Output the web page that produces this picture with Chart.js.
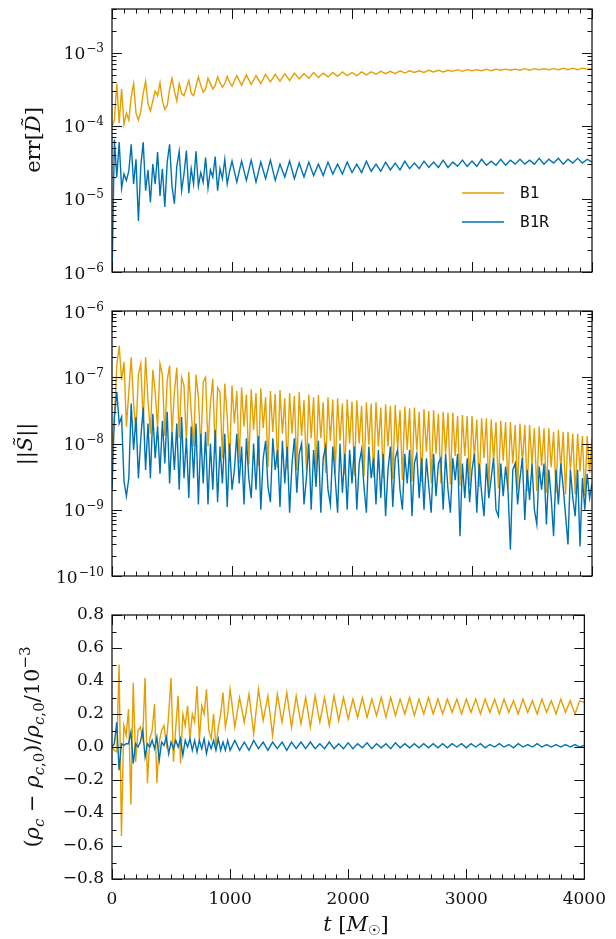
<!DOCTYPE html>
<html>
<head>
<meta charset="utf-8">
<script src="https://cdn.jsdelivr.net/npm/chart.js@4.4.1/dist/chart.umd.min.js"></script>
<style>
  html, body { margin: 0; padding: 0; background: #fff; }
  #fig { position: relative; width: 616px; height: 939px; }
  canvas { position: absolute; left: 0; }
</style>
</head>
<body>
<div id="fig">
  <canvas id="c1" width="616" height="300" style="top:0px"></canvas>
  <canvas id="c2" width="616" height="290" style="top:300px"></canvas>
  <canvas id="c3" width="616" height="349" style="top:590px"></canvas>
</div>
<script>
// ---------- data ----------
// sample times t [M_sun]: 20 M_sun steps up to t = 1000, then 40 M_sun steps
const tEarly = Array.from({ length: 51 }, (_, i) => i * 20);
const tLate = Array.from({ length: 75 }, (_, i) => 1040 + i * 40);
const time = tEarly.concat(tLate);
// the momentum norm is sampled every 20 M_sun over the whole run
const timeS = Array.from({ length: 201 }, (_, i) => i * 20);

const runLabels = ['B1', 'B1R'];

// err[D~], in units of 1e-5
const errD_B1 = [
  10, 12, 38, 11, 32, 10.5, 15, 12, 25, 38,
  15, 12, 16, 28, 41, 20, 16, 22, 30, 26,
  39, 22, 17, 19, 32, 45, 30, 22, 38, 28,
  26, 33, 42, 28, 26, 35, 47, 36, 29, 32,
  45, 38, 32, 36, 47, 39, 34, 38, 48, 40,
  35,
  49, 36, 50, 37, 49, 38, 51, 40, 51, 41,
  52, 42, 53, 44, 52, 45, 54, 46, 53, 47,
  54, 48, 55, 49, 54, 49, 55, 50, 55, 51,
  56, 52, 56, 52, 57, 53, 57, 54, 57, 54,
  58, 55, 58, 55, 58, 56, 59, 56, 59, 57,
  59, 57, 60, 57, 60, 58, 60, 58, 60, 58,
  61, 58, 61, 59, 61, 59, 61, 59, 62, 59,
  62, 59, 62, 60, 61
];
const errD_B1R = [
  0.08, 6.5, 2.0, 6.0, 1.4, 2.2, 1.8, 2.4, 5.6, 1.6,
  3.5, 0.5, 2.8, 6.0, 1.3, 2.5, 0.9, 3.0, 1.6, 4.4,
  1.1, 2.6, 0.78, 3.2, 5.6, 1.5, 0.86, 2.8, 4.5, 1.3,
  2.2, 4.6, 1.2, 2.6, 1.6, 4.5, 1.5, 2.3, 1.7, 3.7,
  1.4, 2.5, 2.0, 3.8, 1.3, 2.6, 1.9, 3.5, 1.6, 2.4,
  3.3,
  1.7, 3.3, 1.8, 3.4, 1.7, 3.2, 1.9, 3.4, 1.8, 3.0,
  2.0, 3.3, 1.9, 3.1, 2.0, 3.2, 2.1, 3.0, 2.1, 3.2,
  2.2, 3.0, 2.2, 3.2, 2.3, 3.0, 2.3, 3.3, 2.4, 3.0,
  2.4, 3.2, 2.5, 3.1, 2.5, 3.3, 2.6, 3.1, 2.6, 3.3,
  2.7, 3.2, 2.7, 3.4, 2.7, 3.2, 2.8, 3.4, 2.8, 3.3,
  2.8, 3.5, 2.9, 3.3, 2.9, 3.5, 2.9, 3.4, 3.0, 3.5,
  3.0, 3.4, 3.0, 3.6, 3.0, 3.5, 3.1, 3.6, 3.0, 3.5,
  3.1, 3.6, 3.1, 3.5, 3.2
];

// ||S~||, in units of 1e-9 (sampled on timeS)
const normS_B1 = [
  10, 25, 150, 300, 90, 170, 18, 60, 200, 40,
  15, 110, 160, 20, 200, 45, 14, 130, 60, 17,
  160, 110, 13, 90, 150, 14, 60, 140, 12, 100,
  75, 10, 120, 30, 9, 110, 50, 8, 85, 100,
  9, 40, 95, 7, 70, 60, 6, 80, 25, 5.5,
  75,
  20, 62, 5, 70, 18, 55, 4.8, 66,
  16, 58, 4.6, 68, 17, 50, 4.4, 62,
  15, 56, 4.3, 64, 14, 48, 4.1, 58,
  14, 52, 4.0, 60, 13, 45, 3.9, 55,
  12, 50, 3.7, 54, 12, 42, 3.6, 50,
  11, 46, 3.5, 48, 11, 40, 3.4, 46,
  10, 43, 3.3, 45, 10, 37, 3.2, 42,
  9.5, 40, 3.1, 42, 9, 35, 3.0, 39,
  9, 37, 2.9, 38, 8.5, 32, 2.8, 36,
  8, 34, 2.7, 35, 8, 30, 2.6, 33,
  7.5, 31, 2.5, 32, 7, 28, 2.5, 30,
  7, 29, 2.4, 29, 6.5, 26, 2.3, 27,
  6.5, 26, 2.3, 26, 6, 23, 2.2, 24,
  6, 24, 2.1, 23, 5.5, 21, 2.1, 22,
  5.5, 21, 2.0, 21, 5, 19, 2.0, 20,
  5, 19, 1.9, 19, 4.8, 17, 1.9, 18,
  4.6, 17, 1.8, 17, 4.4, 15, 1.8, 16,
  4.2, 15, 1.7, 15, 4, 14, 1.7, 14,
  3.8, 13, 1.6, 13, 3.6, 12
];
const normS_B1R = [
  2, 25, 60, 20, 25, 2.7, 1.6, 3, 40, 8,
  25, 3, 12, 35, 4, 20, 3, 28, 6, 18,
  3.5, 22, 5, 30, 2.5, 15, 4, 20, 2, 25,
  3, 12, 1.5, 18, 3, 20, 1.2, 14, 2.5, 15,
  1.2, 10, 2, 16, 1.3, 9, 2.5, 14, 1.1, 10,
  2,
  4, 14, 2.5, 9, 1.2, 12, 3, 1.5, 10, 2,
  13, 1.0, 6, 11, 2.2, 1.3, 12, 4, 8, 1.1,
  11, 2.5, 9, 0.9, 5, 12, 1.8, 7, 10, 1.2,
  3, 10, 1.0, 8, 2.2, 11, 0.9, 6, 9, 2.0,
  1.2, 9, 3, 0.9, 10, 1.8, 7, 1.0, 8, 2.5,
  9, 1.0, 5, 8, 2.2, 0.9, 9, 3, 6, 1.2,
  8, 1.5, 7, 0.8, 4, 9, 1.1, 6, 8, 2.0,
  1.0, 7, 2.5, 8, 0.8, 5, 7, 1.5, 6, 1.0,
  6, 2.2, 0.9, 7, 1.6, 5, 6, 1.0, 7, 2.0,
  0.9, 6, 2.8, 7, 0.4, 5, 1.5, 6, 1.3, 4,
  7, 0.9, 5, 1.8, 0.8, 5, 1.5, 3, 6, 1.0,
  0.8, 5, 1.6, 4.5, 2.0, 0.25, 4, 5, 1.2, 3,
  6, 0.7, 4, 1.4, 5, 1.0, 0.6, 4.5, 2.0, 5,
  0.6, 4, 1.5, 0.4, 4, 1.2, 5, 2.2, 0.8, 0.3,
  4, 1.5, 0.8, 4, 0.28, 3, 1.0, 3.5, 1.5, 2.5
];

// (rho_c - rho_c,0) / rho_c,0, in units of 1e-3
const drho_B1 = [
  0.0, -0.02, -0.03, 0.5, -0.54, 0.13, 0.07, 0.23, -0.35, 0.39,
  -0.09, 0.1, 0.12, 0.05, 0.42, -0.22, 0.05, 0.1, 0.26, -0.22,
  0.03, 0.1, 0.13, 0.02, 0.2, 0.42, -0.09, 0.12, 0.31, -0.1,
  0.2, 0.13, 0.25, 0.05, 0.2, 0.15, 0.37, 0.04, 0.25, 0.2,
  0.35, 0.1, 0.05, 0.2, 0.0, 0.12, 0.2, 0.33, 0.12, 0.2,
  0.35,
  0.12, 0.3, 0.15, 0.32, 0.08, 0.35, 0.16, 0.31, 0.07, 0.32,
  0.15, 0.33, 0.12, 0.31, 0.14, 0.3, 0.12, 0.31, 0.15, 0.3,
  0.13, 0.31, 0.16, 0.3, 0.17, 0.29, 0.18, 0.3, 0.18, 0.29,
  0.19, 0.3, 0.18, 0.3, 0.19, 0.29, 0.2, 0.3, 0.19, 0.29,
  0.2, 0.3, 0.2, 0.29, 0.2, 0.29, 0.21, 0.29, 0.2, 0.29,
  0.21, 0.29, 0.2, 0.29, 0.21, 0.29, 0.2, 0.29, 0.21, 0.28,
  0.2, 0.29, 0.21, 0.28, 0.2, 0.29, 0.21, 0.28, 0.2, 0.29,
  0.21, 0.28, 0.2, 0.28, 0.27
];
const drho_B1R = [
  0.0, 0.02, 0.15, -0.14, 0.02, 0.01, 0.02, 0.02, 0.09, -0.1,
  0.02, 0.0, 0.03, 0.1, -0.06, 0.02, 0.0, 0.04, -0.01, 0.06,
  -0.08, 0.03, 0.01, 0.06, -0.04, 0.03, -0.01, 0.04, 0.0, 0.05,
  -0.05, 0.04, 0.0, 0.05, -0.02, 0.04, -0.03, 0.04, -0.01, 0.05,
  -0.04, 0.03, -0.01, 0.04, -0.02, 0.05, -0.02, 0.03, -0.02, 0.04,
  -0.02,
  0.04, -0.02, 0.03, -0.02, 0.04, -0.01, 0.03, -0.02, 0.03, -0.01,
  0.03, -0.02, 0.03, -0.01, 0.03, -0.01, 0.03, -0.01, 0.02, -0.01,
  0.03, -0.01, 0.02, -0.01, 0.025, -0.01, 0.02, -0.005, 0.025, -0.01,
  0.02, -0.005, 0.02, -0.01, 0.025, -0.005, 0.02, -0.005, 0.02, -0.005,
  0.02, -0.005, 0.02, -0.005, 0.02, -0.005, 0.02, 0.0, 0.02, -0.005,
  0.02, 0.0, 0.02, -0.005, 0.015, 0.0, 0.02, 0.0, 0.015, -0.005,
  0.02, 0.0, 0.015, 0.0, 0.02, 0.0, 0.015, 0.0, 0.015, 0.0,
  0.015, 0.0, 0.015, 0.0, 0.01
];

// axis ticks
const xMajorTicks = [0, 1000, 2000, 3000, 4000];
const errDExponents = [-6, -5, -4, -3];
const normSExponents = [-10, -9, -8, -7, -6];
const drhoTicks = [-0.8, -0.6, -0.4, -0.2, 0.0, 0.2, 0.4, 0.6, 0.8];

// ---------- styling ----------
const ORANGE = '#E69F00';
const BLUE = '#0072B2';
const INK = '#111';
const SERIF = '"DejaVu Serif", serif';
const MONO = '"DejaVu Sans Mono", monospace';
const MAJ = 10, MIN = 4.5;

const pts = (t, vals, unit) => vals.map((v, i) => ({ x: t[i], y: v * unit }));

function logTickList(min, max) {
  const out = [];
  for (let e = Math.floor(Math.log10(min)); e <= Math.ceil(Math.log10(max)); e++) {
    for (let m = 1; m <= 9; m++) {
      const v = m * Math.pow(10, e);
      if (v >= min * 0.999 && v <= max * 1.001) out.push([v, m === 1]);
    }
  }
  return out;
}
function linTickList() {
  const out = [];
  for (let k = -8; k <= 8; k++) out.push([k / 10, k % 2 === 0]);
  return out;
}

function drawRich(ctx, segs, x, y) {
  for (const s of segs) {
    ctx.font = s.font;
    ctx.fillText(s.text, x, y + (s.dy || 0));
    x += ctx.measureText(s.text).width;
  }
}
function richWidth(ctx, segs) {
  let w = 0;
  for (const s of segs) { ctx.font = s.font; w += ctx.measureText(s.text).width; }
  return w;
}

const F = `21px ${SERIF}`;
const FI = `italic 21px ${SERIF}`;
const FS = `15px ${SERIF}`;
const FSI = `italic 15px ${SERIF}`;

function framePlugin(cfg) {
  return {
    id: 'frame',
    afterDraw(chart) {
      const { ctx, chartArea: a } = chart;
      const xs = chart.scales.x, ys = chart.scales.y;
      ctx.save();
      // inward ticks on all four sides
      ctx.strokeStyle = INK;
      ctx.lineWidth = 1;
      ctx.beginPath();
      for (let v = 0; v <= 4000; v += 100) {
        const len = xMajorTicks.includes(v) ? MAJ : MIN;
        const p = Math.round(xs.getPixelForValue(v)) + 0.5;
        ctx.moveTo(p, a.bottom); ctx.lineTo(p, a.bottom - len);
        ctx.moveTo(p, a.top); ctx.lineTo(p, a.top + len);
      }
      for (const [v, major] of cfg.yTicks) {
        const len = major ? MAJ : MIN;
        const p = Math.round(ys.getPixelForValue(v)) + 0.5;
        ctx.moveTo(a.left, p); ctx.lineTo(a.left + len, p);
        ctx.moveTo(a.right, p); ctx.lineTo(a.right - len, p);
      }
      ctx.stroke();
      ctx.lineWidth = 1.25;
      ctx.strokeRect(a.left, a.top, a.right - a.left, a.bottom - a.top);

      ctx.fillStyle = INK;
      ctx.textAlign = 'left';
      ctx.textBaseline = 'alphabetic';

      // power-of-ten labels on log axes
      if (cfg.exponents) {
        for (const e of cfg.exponents) {
          const y = ys.getPixelForValue(Math.pow(10, e));
          const sup = '\u2212' + Math.abs(e);
          ctx.font = `12px ${SERIF}`;
          const ws = ctx.measureText(sup).width;
          ctx.font = `17px ${SERIF}`;
          const wb = ctx.measureText('10').width;
          const right = a.left - 8;
          ctx.fillText('10', right - ws - wb - 1, y + 6.5);
          ctx.font = `12px ${SERIF}`;
          ctx.fillText(sup, right - ws, y - 0.5);
        }
      }

      // rotated y-axis title
      if (cfg.yTitle) {
        const t = cfg.yTitle;
        ctx.save();
        ctx.translate(t.cx, t.cy);
        ctx.rotate(-Math.PI / 2);
        const w = richWidth(ctx, t.segs);
        drawRich(ctx, t.segs, -w / 2, t.base);
        ctx.restore();
      }

      // x-axis title
      if (cfg.xTitle) {
        const t = cfg.xTitle;
        const w = richWidth(ctx, t.segs);
        drawRich(ctx, t.segs, t.cx - w / 2, t.base);
      }

      // legend
      if (cfg.legend) {
        const L = cfg.legend;
        chart.data.datasets.forEach((ds, i) => {
          const y = L.y[i];
          ctx.strokeStyle = ds.borderColor;
          ctx.lineWidth = 1.5;
          ctx.beginPath();
          ctx.moveTo(L.x0, y); ctx.lineTo(L.x1, y);
          ctx.stroke();
          ctx.fillStyle = INK;
          ctx.font = `16px ${MONO}`;
          ctx.textBaseline = 'middle';
          ctx.fillText(ds.label, L.tx, y + 1);
        });
      }
      ctx.restore();
    }
  };
}

function makePanel(id, cfg) {
  const yScale = cfg.log
    ? { type: 'logarithmic', min: cfg.ymin, max: cfg.ymax }
    : { type: 'linear', min: cfg.ymin, max: cfg.ymax };
  Object.assign(yScale, {
    grid: { display: false, drawTicks: false },
    border: { display: false },
    ticks: cfg.yLabels
      ? {
          display: true, padding: 8, color: INK, autoSkip: false,
          font: { family: SERIF, size: 17 },
          callback: v => {
            if (Math.abs(v) < 1e-9) return '0.0';
            const s = Math.abs(v).toFixed(1);
            return v < 0 ? '\u2212' + s : s;
          }
        }
      : { display: false },
    afterBuildTicks: cfg.yLabels ? s => { s.ticks = drhoTicks.map(v => ({ value: v })); } : undefined,
    afterFit: s => { s.width = cfg.yWidth; }
  });
  return new Chart(document.getElementById(id), {
    type: 'line',
    data: {
      datasets: [
        { label: runLabels[0], data: pts(cfg.t, cfg.a, cfg.unit), borderColor: ORANGE, borderWidth: 1.4,
          pointRadius: 0, tension: 0, order: 1, clip: 0 },
        { label: runLabels[1], data: pts(cfg.t, cfg.b, cfg.unit), borderColor: BLUE, borderWidth: 1.4,
          pointRadius: 0, tension: 0, order: 0, clip: 0 }
      ]
    },
    options: {
      responsive: false,
      animation: false,
      devicePixelRatio: 1,
      events: [],
      layout: { padding: cfg.padding },
      plugins: { legend: { display: false }, tooltip: { enabled: false } },
      scales: {
        x: {
          type: 'linear', min: 0, max: 4000,
          grid: { display: false, drawTicks: false },
          border: { display: false },
          ticks: cfg.xLabels
            ? { display: true, padding: 10, color: INK, maxRotation: 0, autoSkip: false,
                font: { family: SERIF, size: 17 }, callback: v => String(v) }
            : { display: false },
          afterBuildTicks: s => { s.ticks = xMajorTicks.map(v => ({ value: v })); },
          afterFit: s => { s.height = cfg.xHeight; }
        },
        y: yScale
      }
    },
    plugins: [framePlugin(cfg)]
  });
}

// top: error in conserved density
makePanel('c1', {
  t: time, a: errD_B1, b: errD_B1R, unit: 1e-5,
  log: true, ymin: 1e-6, ymax: 4e-3,
  yTicks: logTickList(1e-6, 4e-3), exponents: errDExponents,
  padding: { top: 9, left: 112, right: 24, bottom: 28 }, yWidth: 0, xHeight: 0,
  yTitle: { cx: 34, cy: 140, base: 6,
    segs: [{ text: 'err[', font: F }, { text: 'D\u0303', font: FI }, { text: ']', font: F }] },
  legend: { x0: 462, x1: 504, tx: 520, y: [193, 222] }
});

// middle: momentum norm
makePanel('c2', {
  t: timeS, a: normS_B1, b: normS_B1R, unit: 1e-9,
  log: true, ymin: 1e-10, ymax: 1e-6,
  yTicks: logTickList(1e-10, 1e-6), exponents: normSExponents,
  padding: { top: 11, left: 112, right: 24, bottom: 14 }, yWidth: 0, xHeight: 0,
  yTitle: { cx: 26, cy: 144, base: 6,
    segs: [{ text: '||', font: F }, { text: 'S\u0303', font: FI }, { text: '||', font: F }] }
});

// bottom: central density change
makePanel('c3', {
  t: time, a: drho_B1, b: drho_B1R, unit: 1,
  log: false, ymin: -0.8, ymax: 0.8,
  yTicks: linTickList(), yLabels: true, xLabels: true,
  padding: { top: 25, left: 0, right: 24, bottom: 0 }, yWidth: 112, xHeight: 60,
  yTitle: { cx: 33, cy: 157, base: 6,
    segs: [
      { text: '(', font: F }, { text: '\u03C1', font: FI }, { text: 'c', font: FSI, dy: 5 },
      { text: ' \u2212 ', font: F }, { text: '\u03C1', font: FI }, { text: 'c', font: FSI, dy: 5 },
      { text: ',0', font: FS, dy: 5 }, { text: ')/', font: F }, { text: '\u03C1', font: FI },
      { text: 'c', font: FSI, dy: 5 }, { text: ',0', font: FS, dy: 5 }, { text: '/10', font: F },
      { text: '\u22123', font: FS, dy: -9 }
    ] },
  xTitle: { cx: 356, base: 341,
    segs: [
      { text: 't', font: FI }, { text: ' [', font: F }, { text: 'M', font: FI },
      { text: '\u2609', font: `14px "DejaVu Sans", sans-serif`, dy: 4 }, { text: ']', font: F }
    ] }
});
</script>
</body>
</html>
